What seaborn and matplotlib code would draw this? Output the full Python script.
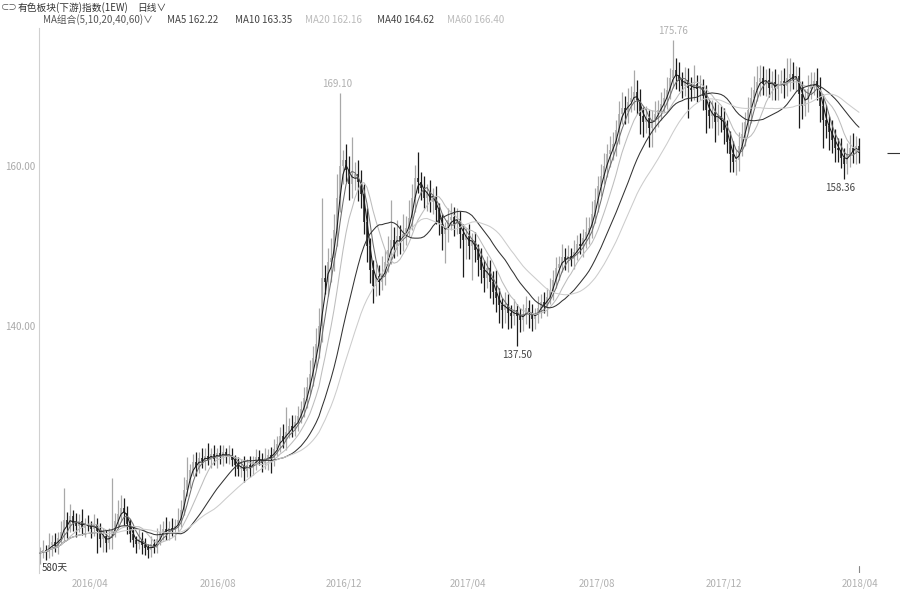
import numpy as np
import pandas as pd
import matplotlib
matplotlib.use("Agg")
import matplotlib.pyplot as plt
import matplotlib.transforms as mtransforms
import seaborn as sns

# ---------------- data (each bar ~2 trading days) ----------------
close_a = [111.6, 112.0, 111.8, 112.6, 113.0, 112.5, 113.5, 114.2, 115.8, 115.0,
           116.2, 115.4, 115.0, 115.6, 114.8, 115.3, 115.0, 114.6, 115.2, 114.4,
           113.4, 113.8, 112.9, 113.5, 114.5, 115.6, 116.5, 117.3, 116.6, 115.2]
close_b = [114.0, 113.2, 112.8, 113.4, 112.6, 112.2, 112.0, 112.7, 112.3, 113.4,
           114.3, 114.6, 114.2, 114.8, 114.5, 115.0, 115.8, 117.0, 119.5, 120.8]
close_c = [122.0, 123.0, 122.4, 123.5, 123.1, 123.8, 123.3, 124.0, 123.4, 124.1,
           123.6, 124.2, 123.7, 123.9, 123.2, 122.6, 122.1, 122.5, 121.9, 122.6,
           122.3, 123.0, 123.6, 123.3, 122.9, 123.5, 123.9, 123.5, 124.6, 125.3,
           126.2, 125.7, 126.8, 127.5, 127.1, 128.0, 128.7]
close_d = [129.6, 131.0, 132.4, 134.0, 136.0, 137.8, 140.0, 146.0, 145.5, 148.0,
           148.5, 152.0, 156.0, 160.0, 160.8, 159.5, 157.8, 158.6, 159.0, 158.0]
close_e = [156.5, 153.0, 150.0, 147.0, 145.0, 146.2, 145.5, 146.5, 148.0, 149.5,
           150.8, 150.0, 151.2, 150.6, 151.5, 152.3, 153.5, 156.0, 158.5, 158.0]
close_f = [157.2, 156.0, 156.8, 155.5, 156.2, 154.5, 152.8, 151.5, 152.0, 153.2,
           153.6, 152.8, 153.4, 151.5, 150.8, 151.3, 150.0, 150.6, 149.5, 148.2]
close_g = [147.0, 146.0, 147.2, 145.5, 144.2, 143.5, 142.6, 142.0, 142.8, 141.6,
           141.3, 142.0, 141.2, 140.8, 141.5, 142.2, 141.6, 140.9, 141.4, 142.2]
close_h = [143.0, 142.6, 143.6, 144.5, 145.8, 147.2, 147.8, 148.6, 148.2, 148.8,
           148.4, 149.3, 150.2, 150.0, 151.0, 151.8, 152.3, 154.0, 155.8, 157.5]
close_i = [158.8, 160.0, 161.5, 162.0, 162.8, 164.5, 166.5, 167.3, 166.8, 168.0,
           168.5, 169.2, 168.3, 166.2, 165.5, 166.0, 164.8, 165.6, 166.5, 167.0]
close_j = [167.8, 168.5, 169.5, 171.0, 172.0, 171.2, 170.6, 170.0, 170.8, 169.8,
           169.5, 170.2, 169.6, 169.9, 168.8, 167.0, 166.2, 166.8, 165.5, 166.2]
close_k = [165.8, 164.5, 163.0, 161.5, 160.5, 160.8, 162.5, 164.0, 165.5, 167.0,
           168.5, 169.5, 170.5, 171.0, 170.2, 170.8, 169.8, 170.5, 169.6, 170.3]
close_l = [170.6, 170.0, 171.0, 171.5, 170.8, 171.2, 169.0, 167.5, 168.2, 169.6,
           170.3, 170.6, 169.8, 167.5, 165.8, 165.0, 164.2, 163.2, 162.3, 162.0,
           161.0, 160.2, 161.5, 162.3, 161.8, 162.5, 161.6]

# upper wick above max(open, close) and lower wick below min(open, close)
up_a = [0.8, 1.2, 0.6, 1.5, 0.9, 1.1, 0.7, 1.4, 3.95, 1.0,
        1.6, 0.8, 1.2, 0.9, 1.5, 0.7, 1.1, 0.6, 1.3, 0.8,
        1.0, 0.9, 0.7, 1.2, 6.5, 1.0, 1.8, 1.6, 1.2, 0.9]
dn_a = [0.9, 0.6, 1.1, 0.8, 1.3, 0.7, 1.0, 0.6, 1.2, 1.5,
        0.8, 1.0, 1.4, 0.7, 0.9, 1.2, 0.6, 1.1, 0.8, 2.8,
        1.0, 1.6, 1.1, 0.8, 1.4, 0.9, 0.7, 1.0, 1.5, 1.2]
up_b = [0.7, 1.0, 0.6, 1.2, 0.8, 0.9, 0.5, 1.1, 0.7, 1.3,
        0.9, 1.0, 1.5, 0.8, 1.2, 0.9, 1.4, 1.2, 1.6, 2.8]
dn_b = [1.0, 0.8, 1.2, 0.7, 1.1, 0.8, 1.0, 0.9, 0.7, 0.7,
        0.8, 1.1, 0.9, 1.0, 0.7, 1.2, 0.8, 0.9, 0.6, 0.8]
up_c = [0.8, 1.0, 1.2, 0.7, 1.3, 0.9, 1.6, 0.8, 1.1, 0.7,
        1.0, 0.9, 0.6, 1.2, 0.8, 0.7, 1.0, 0.9, 1.3, 0.8,
        1.1, 0.7, 1.0, 0.9, 0.8, 1.2, 0.7, 1.0, 1.3, 0.9,
        1.2, 1.5, 3.1, 1.0, 1.4, 0.9, 1.3]
dn_c = [1.0, 0.7, 1.2, 0.8, 0.9, 1.1, 0.7, 1.0, 0.8, 1.2,
        0.9, 1.1, 0.8, 1.0, 0.7, 1.3, 0.9, 1.0, 1.4, 0.8,
        1.2, 0.9, 1.0, 0.7, 1.1, 0.8, 1.5, 1.9, 1.0, 0.8,
        1.1, 0.9, 1.2, 0.8, 1.0, 0.9, 1.1]
up_d = [1.0, 1.4, 1.2, 1.8, 1.5, 2.0, 2.2, 10.0, 1.6, 1.8,
        2.5, 2.0, 3.0, 9.10, 1.2, 2.0, 1.8, 5.0, 1.5, 1.8]
dn_d = [0.8, 1.0, 1.2, 0.9, 1.5, 1.3, 1.8, 2.0, 1.5, 1.8,
        2.5, 1.6, 2.0, 1.8, 2.2, 1.5, 2.0, 1.8, 1.6, 2.4]
up_e = [1.5, 1.2, 1.8, 1.0, 1.3, 1.6, 1.4, 2.2, 1.5, 1.8,
        5.0, 1.6, 2.0, 1.4, 2.5, 1.5, 2.2, 1.8, 1.6, 3.25]
dn_e = [1.8, 1.5, 2.0, 1.6, 2.1, 1.2, 1.6, 1.0, 1.4, 1.2,
        1.8, 1.5, 1.3, 1.6, 1.2, 1.4, 1.1, 1.5, 1.8, 1.4]
up_f = [1.2, 1.5, 1.0, 1.4, 1.1, 1.3, 0.9, 1.2, 1.0, 1.6,
        1.8, 1.3, 1.3, 1.0, 1.2, 0.9, 1.4, 1.0, 1.2, 0.8]
dn_f = [1.4, 1.2, 1.6, 1.3, 1.5, 1.8, 1.4, 2.0, 3.6, 1.5,
        1.2, 1.6, 1.3, 1.8, 4.7, 2.4, 1.6, 4.2, 1.5, 2.0]
up_g = [1.5, 1.2, 1.6, 1.0, 1.4, 2.8, 1.3, 0.9, 1.5, 1.2,
        1.0, 1.4, 0.8, 1.1, 1.3, 1.6, 1.0, 1.2, 0.9, 1.5]
dn_g = [1.6, 1.8, 1.2, 2.0, 1.5, 1.8, 2.2, 2.3, 1.6, 2.0,
        1.5, 1.2, 3.7, 1.6, 1.4, 1.2, 1.8, 1.5, 1.3, 1.0]
up_h = [1.0, 1.3, 1.1, 1.5, 1.2, 1.4, 1.0, 1.6, 1.2, 1.3,
        1.0, 1.5, 1.2, 1.4, 1.1, 1.8, 1.3, 1.6, 1.4, 1.2]
dn_h = [1.2, 1.0, 1.4, 0.9, 1.3, 1.1, 1.5, 1.0, 1.2, 1.4,
        0.9, 1.3, 1.1, 1.0, 1.4, 1.2, 1.6, 1.3, 1.1, 1.5]
up_i = [1.4, 1.6, 1.2, 1.8, 1.5, 1.3, 1.6, 2.0, 1.4, 1.8,
        1.5, 2.8, 1.6, 1.3, 1.2, 1.5, 1.0, 1.4, 1.6, 1.3]
dn_i = [1.2, 1.0, 1.4, 1.6, 1.2, 1.5, 1.8, 1.3, 1.6, 1.4,
        1.2, 1.5, 1.8, 2.2, 1.9, 1.4, 2.4, 2.4, 1.3, 1.6]
up_j = [1.4, 1.2, 1.6, 1.3, 3.76, 1.5, 1.8, 1.2, 1.6, 1.4,
        1.3, 2.4, 1.2, 1.5, 1.0, 1.3, 1.1, 1.4, 1.2, 1.5]
dn_j = [1.2, 1.0, 1.4, 1.1, 1.3, 1.6, 1.2, 1.5, 1.3, 3.8,
        1.4, 1.2, 1.6, 1.3, 1.8, 2.9, 1.5, 1.4, 2.5, 1.6]
up_k = [1.3, 1.5, 1.2, 1.4, 1.6, 1.2, 1.8, 1.5, 1.3, 1.6,
        1.4, 1.8, 2.0, 1.6, 1.5, 1.3, 1.4, 1.4, 1.6, 1.2]
dn_k = [1.5, 1.8, 1.4, 2.25, 1.2, 1.6, 1.4, 1.2, 1.5, 1.3,
        1.6, 1.2, 1.4, 1.8, 1.3, 1.5, 1.2, 1.6, 1.4, 1.3]
up_l = [1.4, 1.6, 2.5, 2.0, 1.5, 1.3, 1.2, 1.6, 1.4, 1.8,
        1.5, 1.2, 1.6, 1.3, 1.5, 1.8, 1.2, 1.6, 1.4, 1.2,
        1.5, 1.3, 1.4, 1.6, 1.8, 1.2, 1.0]
dn_l = [1.2, 1.5, 1.3, 1.6, 1.2, 1.4, 4.2, 1.6, 1.3, 1.5,
        1.2, 1.4, 1.6, 2.0, 3.5, 1.5, 2.2, 1.6, 1.8, 1.5,
        1.3, 1.84, 1.2, 1.6, 1.4, 1.5, 1.2]

tick_labels = ["2016/04", "2016/08", "2016/12", "2017/04", "2017/08", "2017/12", "2018/04"]
tick_bars = [16.8, 59.3, 101.3, 142.7, 185.7, 228.0, 273.3]

title_text = "有色板块(下游)指数(1EW)"
period_text = "日线∨"
ma_days = [5, 10, 20, 40, 60]
ma_header = ["MA5 162.22", "MA10 163.35", "MA20 162.16", "MA40 164.62", "MA60 166.40"]
range_text = "580天"

# ---------------- build table ----------------
close = np.array(close_a + close_b + close_c + close_d + close_e + close_f +
                 close_g + close_h + close_i + close_j + close_k + close_l)
up = np.array(up_a + up_b + up_c + up_d + up_e + up_f + up_g + up_h + up_i + up_j + up_k + up_l)
dn = np.array(dn_a + dn_b + dn_c + dn_d + dn_e + dn_f + dn_g + dn_h + dn_i + dn_j + dn_k + dn_l)
n = len(close)
opn = np.concatenate([[close[0] - 0.5], close[:-1]])
high = np.maximum(opn, close) + up
low = np.minimum(opn, close) - dn
df = pd.DataFrame({"bar": np.arange(n), "open": opn, "close": close, "high": high, "low": low})
for d in ma_days:
    df[f"MA{d}"] = df["close"].rolling(int(np.ceil(d / 2)), min_periods=1).mean()

# ---------------- plot ----------------
sns.set_theme(style="white")
plt.rcParams["font.family"] = ["Noto Sans CJK SC", "DejaVu Sans"]

W, H = 900, 589
fig = plt.figure(figsize=(W / 100, H / 100), dpi=100)
ax = fig.add_axes([39 / W, 1 - 573 / H, 861 / W, 545 / H])
ax.set_facecolor("none")

upc, dnc = "#a8a8a8", "#1c1c1c"
cols = np.where(df["close"] >= df["open"], upc, dnc)
ax.vlines(df["bar"], df["low"], df["high"], colors=cols, linewidth=0.9, zorder=2)
ax.vlines(df["bar"], np.minimum(df["open"], df["close"]), np.maximum(df["open"], df["close"]),
          colors=cols, linewidth=1.1, zorder=2)

ma_colors = ["#1a1a1a", "#6e6e6e", "#bdbdbd", "#333333", "#cccccc"]
for d, c in zip(ma_days, ma_colors):
    sns.lineplot(data=df, x="bar", y=f"MA{d}", ax=ax, color=c, linewidth=0.75, zorder=3, legend=False)

ax.set_xlim(-1 / 3, 860 / 3)
ax.set_ylim(180.75 - 573 / 8, 180.75 - 28 / 8)
ax.set_xlabel("")
ax.set_ylabel("")
ax.set_yticks([140, 160])
ax.set_yticklabels([f"{v:.2f}" for v in [140, 160]], fontsize=7, color="#aaaaaa")
ax.set_xticks(tick_bars)
ax.set_xticklabels(tick_labels, fontsize=7, color="#b0b0b0")
ax.tick_params(axis="both", length=0)
ax.tick_params(axis="y", pad=2.5)
ax.tick_params(axis="x", pad=4)
for s in ["top", "right", "bottom"]:
    ax.spines[s].set_visible(False)
ax.spines["left"].set_color("#d0d0d0")
ax.spines["left"].set_linewidth(0.8)
ax.grid(False)

# extreme labels
def mark(idx, val, above, color, dx=0):
    ax.annotate(f"{val:.2f}", xy=(idx, val), xytext=(dx, 3 if above else -3),
                textcoords="offset points", ha="center", va="bottom" if above else "top",
                fontsize=7, color=color)

seg1 = slice(80, 130)
i1 = 80 + int(np.argmax(high[seg1]))
mark(i1, high[i1], True, "#b0b0b0", dx=-2)
i2 = int(np.argmax(high))
mark(i2, high[i2], True, "#b0b0b0")
i3 = 140 + int(np.argmin(low[140:180]))
mark(i3, low[i3], False, "#444444")
i4 = 250 + int(np.argmin(low[250:]))
mark(i4, low[i4], False, "#444444", dx=-3)

# last price marker and current bar tick
ax.hlines(close[-1], 282.3, 286.7, colors="#333333", linewidth=0.8)
trans = mtransforms.blended_transform_factory(ax.transData, ax.transAxes)
ax.plot([n - 1, n - 1], [0.0, 0.013], transform=trans, color="#888888", linewidth=0.8)

ax.text(0.003, 0.0, range_text, transform=ax.transAxes, fontsize=7, color="#333333",
        ha="left", va="bottom")

# header
fig.text(1 / W, 1 - 8 / H, "⊂⊃", fontsize=6, color="#555555", va="center", ha="left")
fig.text(18 / W, 1 - 8 / H, title_text, fontsize=7, color="#333333", va="center", ha="left")
fig.text(137 / W, 1 - 8 / H, period_text, fontsize=7, color="#333333", va="center", ha="left")
fig.text(43 / W, 1 - 20 / H, "MA组合(5,10,20,40,60)∨", fontsize=7, color="#555555",
         va="center", ha="left")
hx = [167, 235, 305, 377, 447]
hc = ["#444444", "#444444", "#bbbbbb", "#444444", "#bbbbbb"]
for t, x, c in zip(ma_header, hx, hc):
    fig.text(x / W, 1 - 20 / H, t, fontsize=7, color=c, va="center", ha="left")

fig.savefig("out.png", dpi=100)
